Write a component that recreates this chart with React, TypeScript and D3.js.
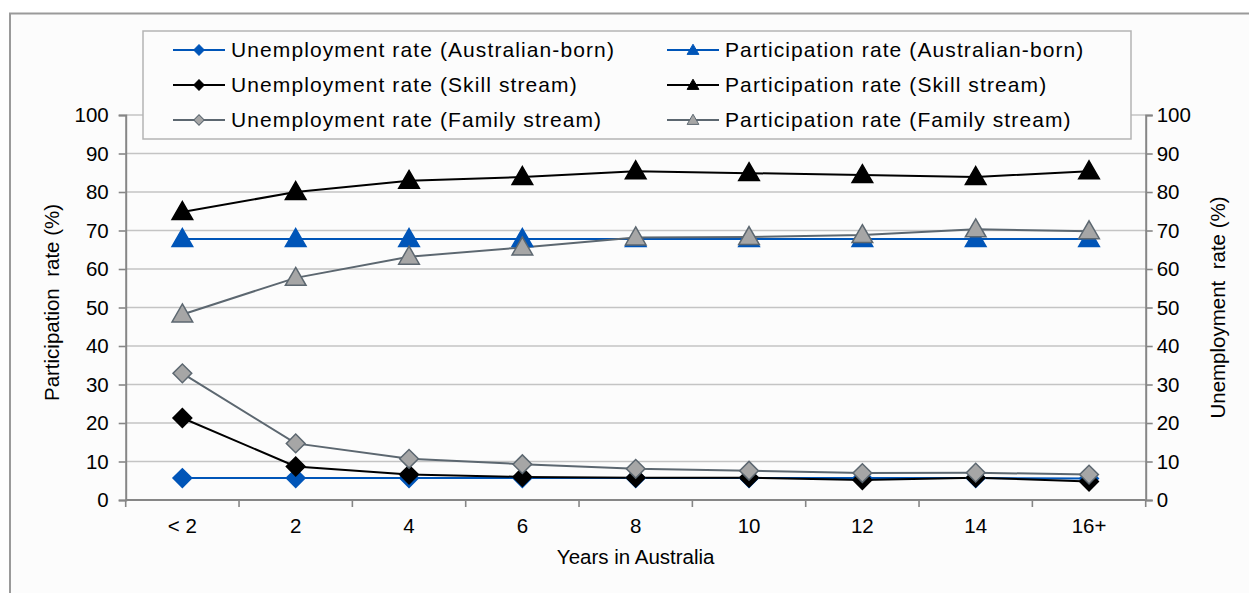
import { useRef, useEffect } from 'react';
import * as d3 from 'd3';

const categories = ['< 2', '2', '4', '6', '8', '10', '12', '14', '16+'];

const unempAusBorn = [5.7, 5.7, 5.7, 5.7, 5.7, 5.7, 5.7, 5.7, 5.6];
const unempSkill = [21.3, 8.7, 6.6, 6.0, 5.8, 5.8, 5.2, 5.8, 4.8];
const unempFamily = [32.9, 14.7, 10.7, 9.3, 8.1, 7.6, 7.0, 7.1, 6.6];
const partAusBorn = [67.8, 67.8, 67.8, 67.8, 67.8, 67.8, 67.8, 67.8, 67.8];
const partSkill = [74.8, 80.0, 82.9, 83.9, 85.4, 84.9, 84.4, 83.9, 85.4];
const partFamily = [48.2, 57.7, 63.2, 65.6, 68.2, 68.3, 68.8, 70.3, 69.8];

const yTicks = [0, 10, 20, 30, 40, 50, 60, 70, 80, 90, 100];

const BLUE = '#0055b8';
const BLACK = '#000000';
const GREY_FILL = '#a6a6a6';
const GREY_LINE = '#5c6770';

type Series = {
  name: string;
  values: number[];
  axis: 'left' | 'right';
  marker: 'diamond' | 'triangle';
  line: string;
  fill: string;
  stroke: string;
};

const series: Series[] = [
  { name: 'Unemployment rate (Australian-born)', values: unempAusBorn, axis: 'right', marker: 'diamond', line: BLUE, fill: BLUE, stroke: BLUE },
  { name: 'Unemployment rate (Skill stream)', values: unempSkill, axis: 'right', marker: 'diamond', line: BLACK, fill: BLACK, stroke: BLACK },
  { name: 'Unemployment rate (Family stream)', values: unempFamily, axis: 'right', marker: 'diamond', line: GREY_LINE, fill: GREY_FILL, stroke: GREY_LINE },
  { name: 'Participation rate (Australian-born)', values: partAusBorn, axis: 'left', marker: 'triangle', line: BLUE, fill: BLUE, stroke: BLUE },
  { name: 'Participation rate (Skill stream)', values: partSkill, axis: 'left', marker: 'triangle', line: BLACK, fill: BLACK, stroke: BLACK },
  { name: 'Participation rate (Family stream)', values: partFamily, axis: 'left', marker: 'triangle', line: GREY_LINE, fill: GREY_FILL, stroke: GREY_LINE },
];

const FONT = '"Liberation Sans", Arial, sans-serif';

function markerPath(kind: 'diamond' | 'triangle', big: boolean) {
  if (kind === 'diamond') {
    return d3.symbol().type(d3.symbolSquare).size(big ? 175 : 55)() as string;
  }
  return d3.symbol().type(d3.symbolTriangle).size(big ? 185 : 60)() as string;
}

export default function App() {
  const svgRef = useRef<SVGSVGElement>(null);

  useEffect(() => {
    const svg = d3.select(svgRef.current);
    svg.selectAll('*').remove();

    const W = 1249, H = 593;
    const plot = { left: 125.7, right: 1145.7, top: 115, bottom: 500 };

    // frame
    svg.append('rect').attr('width', W).attr('height', H).attr('fill', '#ffffff');
    svg.append('rect')
      .attr('x', 10).attr('y', 13.5).attr('width', W + 20).attr('height', H)
      .attr('fill', '#fcfcfc').attr('stroke', '#9a9a9a').attr('stroke-width', 2);

    const x = d3.scaleBand<string>().domain(categories).range([plot.left, plot.right]);
    const yLeft = d3.scaleLinear().domain([0, 100]).range([plot.bottom, plot.top]);
    const yRight = d3.scaleLinear().domain([0, 100]).range([plot.bottom, plot.top]);
    const cx = (i: number) => (x(categories[i]) as number) + x.bandwidth() / 2;

    // gridlines
    svg.append('g').selectAll('line')
      .data(yTicks.filter(t => t > 0))
      .join('line')
      .attr('x1', plot.left).attr('x2', plot.right)
      .attr('y1', d => yLeft(d)).attr('y2', d => yLeft(d))
      .attr('stroke', '#c4c4c4').attr('stroke-width', 1.6);

    // left axis
    const gl = svg.append('g')
      .attr('transform', `translate(${plot.left},0)`)
      .call(d3.axisLeft(yLeft).tickValues(yTicks).tickSize(7).tickPadding(10));
    // right axis
    const gr = svg.append('g')
      .attr('transform', `translate(${plot.right},0)`)
      .call(d3.axisRight(yRight).tickValues(yTicks).tickSize(7).tickPadding(4));
    // bottom axis (ticks at category boundaries)
    const gb = svg.append('g')
      .attr('transform', `translate(0,${plot.bottom})`)
      .call(d3.axisBottom(x).tickSize(0).tickPadding(18));
    gb.append('g').selectAll('line')
      .data(d3.range(categories.length + 1))
      .join('line')
      .attr('x1', i => plot.left + i * x.step()).attr('x2', i => plot.left + i * x.step())
      .attr('y1', 0).attr('y2', 7)
      .attr('stroke', '#868686').attr('stroke-width', 1.6);

    [gl, gr, gb].forEach(g => {
      g.select('.domain').attr('stroke', '#868686').attr('stroke-width', 2);
      g.selectAll('.tick line').attr('stroke', '#868686').attr('stroke-width', 1.6);
      g.selectAll('text').attr('fill', '#000').style('font-size', '20.5px').style('font-family', FONT);
    });
    gb.select('.domain').attr('d', `M${plot.left},0H${plot.right}`);

    // axis titles
    svg.append('text')
      .attr('transform', `translate(59,${(plot.top + plot.bottom) / 2 - 5}) rotate(-90)`)
      .attr('text-anchor', 'middle')
      .style('font-family', FONT).style('font-size', '20.5px')
      .attr('xml:space', 'preserve')
      .text('Participation  rate (%)');
    svg.append('text')
      .attr('transform', `translate(1225,${(plot.top + plot.bottom) / 2 + 0}) rotate(-90)`)
      .attr('text-anchor', 'middle')
      .style('font-family', FONT).style('font-size', '20.5px')
      .attr('xml:space', 'preserve')
      .text('Unemployment  rate (%)');
    svg.append('text')
      .attr('x', (plot.left + plot.right) / 2).attr('y', 564)
      .attr('text-anchor', 'middle')
      .style('font-family', FONT).style('font-size', '20.5px')
      .text('Years in Australia');

    // series
    series.forEach(s => {
      const y = s.axis === 'left' ? yLeft : yRight;
      const line = d3.line<number>().x((_, i) => cx(i)).y(v => y(v));
      svg.append('path')
        .datum(s.values)
        .attr('d', line)
        .attr('fill', 'none')
        .attr('stroke', s.line)
        .attr('stroke-width', 2);
    });
    series.forEach(s => {
      const y = s.axis === 'left' ? yLeft : yRight;
      svg.append('g').selectAll('path')
        .data(s.values)
        .join('path')
        .attr('d', markerPath(s.marker, true))
        .attr('transform', (v, i) => `translate(${cx(i)},${y(v) + (s.marker === 'triangle' ? 1.5 : 0)})${s.marker === 'diamond' ? ' rotate(45)' : ''}`)
        .attr('fill', s.fill)
        .attr('stroke', s.stroke)
        .attr('stroke-width', 1.5);
    });

    // legend
    const legend = svg.append('g');
    legend.append('rect')
      .attr('x', 143).attr('y', 31).attr('width', 988).attr('height', 108)
      .attr('fill', '#fcfcfc').attr('stroke', '#b4b4b4').attr('stroke-width', 1.5);
    series.forEach((s, k) => {
      const col = Math.floor(k / 3);
      const row = k % 3;
      const lx = col === 0 ? 173 : 667;
      const ly = 50 + row * 35;
      const item = legend.append('g').attr('transform', `translate(${lx},${ly})`);
      item.append('line').attr('x1', 0).attr('x2', 52).attr('y1', 0).attr('y2', 0)
        .attr('stroke', s.line).attr('stroke-width', 2);
      item.append('path')
        .attr('d', markerPath(s.marker, false))
        .attr('transform', `translate(26,${s.marker === 'triangle' ? 1 : 0})${s.marker === 'diamond' ? ' rotate(45)' : ''}`)
        .attr('fill', s.fill).attr('stroke', s.stroke).attr('stroke-width', 1);
      item.append('text')
        .attr('x', 58).attr('y', 0).attr('dy', '0.35em')
        .style('font-family', FONT).style('font-size', '21px').style('letter-spacing', '1.1px')
        .text(s.name);
    });
  }, []);

  return (
    <svg ref={svgRef} width={1249} height={593}
      style={{ position: 'absolute', left: 0, top: 0, display: 'block' }} />
  );
}
